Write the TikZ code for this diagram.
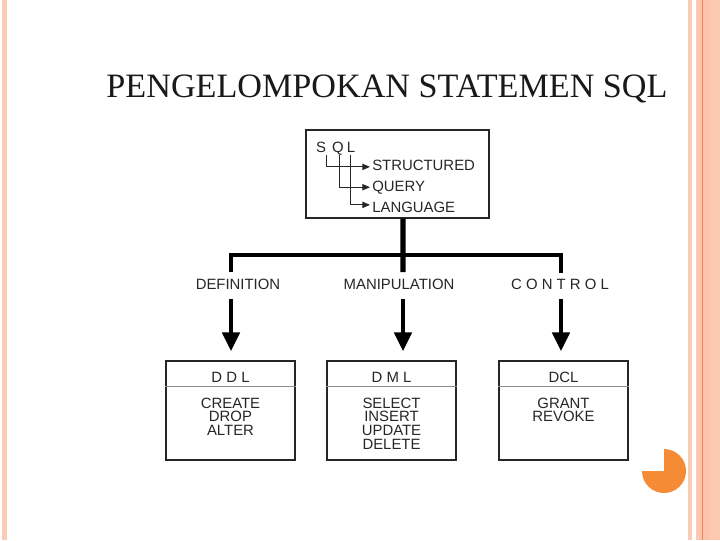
\documentclass[tikz,border=0pt]{standalone}
\usepackage{fontspec}
\setmainfont{Liberation Serif}
\setsansfont{Liberation Sans}
\usetikzlibrary{arrows.meta, positioning, calc}

\definecolor{stripe}{HTML}{F9CCB8}
\definecolor{band}{HTML}{FDC8B2}
\definecolor{bandline}{HTML}{E58A55}
\definecolor{dot}{HTML}{F68B35}

\begin{document}
\begin{tikzpicture}[
    x=0.025cm, y=-0.025cm,
    lbl/.style={
        font=\sffamily\fontsize{10.6}{12}\selectfont,
        text=black!85,
        inner sep=0pt,
        anchor=base
    },
    items/.style={
        font=\sffamily\fontsize{10.6}{9.7}\selectfont,
        text=black!85,
        align=center,
        inner sep=0pt,
        anchor=north
    },
    sqlbox/.style={
        draw=black!85,
        line width=0.8pt,
        minimum width=4.575cm,
        minimum height=2.2cm,
        inner sep=0pt
    },
    catbox/.style={
        draw=black!85,
        line width=0.8pt,
        minimum width=3.225cm,
        minimum height=2.475cm,
        inner sep=0pt
    },
    divider/.style={
        draw=black!45,
        line width=0.8pt
    },
    pointer/.style={
        -{Triangle[length=5.5pt, width=4.5pt]},
        line width=0.7pt,
        draw=black!85
    },
    bus/.style={
        line width=3pt,
        line join=miter,
        draw=black
    },
    bigarrow/.style={
        -{Triangle[length=13.5pt, width=12pt]},
        line width=3.5pt,
        draw=black
    }
]

\useasboundingbox (0,0) rectangle (720,540);
\fill[white] (0,0) rectangle (720,540);

% Slide decoration
\fill[stripe] (2,0) rectangle (7,540);
\fill[stripe] (688,0) rectangle (692,540);
\fill[band] (696,0) rectangle (720,540);
\fill[band!92!bandline] (699,0) rectangle (710,540);
\draw[bandline, line width=0.6pt] (702,0) -- (702,540);
\fill[dot] (664,471) -- ++(0,-22) arc[start angle=270, end angle=540, radius=22] -- cycle;

% Title
\node (title) [font=\rmfamily\fontsize{24.3}{28}\selectfont, text=black!90, inner sep=0pt, anchor=base] at (387,97) {PENGELOMPOKAN STATEMEN SQL};

% SQL box
\node (sql) [sqlbox] at (397.5,174) {};
\node (s) [lbl] at (321,152) {S};
\node (q) [lbl] at (338,152) {Q};
\node (l) [lbl] at (351,152) {L};
\node (structured) [lbl, anchor=base west] at (372,170) {STRUCTURED};
\node (query) [lbl, anchor=base west] at (372,191) {QUERY};
\node (language) [lbl, anchor=base west] at (372,212) {LANGUAGE};

\draw [pointer] ($(s.base)+(5,3)$) |- ($(structured.west)+(-2,2)$);
\draw [pointer] ($(q.base)+(1,3)$) |- ($(query.west)+(-2,0)$);
\draw [pointer] ($(l.base)+(-1,3)$) |- ($(language.west)+(-2,-2)$);

% Groups
\node (def) [lbl] at (238,289) {DEFINITION};
\node (man) [lbl] at (399,289) {MANIPULATION};
\node (con) [lbl] at (560,289) {C O N T R O L};

\coordinate (jl) at (231,255);
\coordinate (jc) at (403,255);
\coordinate (jr) at (561,255);

\draw [bus, line width=3.8pt] ($(sql.south)+(5.5,0)$) -- ($(jc)+(0,17)$);
\draw [bus] ($(jl)+(0,17)$) -- (jl) -- (jr) -- ($(jr)+(0,18)$);

% Statement boxes
\node (ddl) [catbox] at (230.5,410.5) {};
\node (dml) [catbox] at (391.5,410.5) {};
\node (dcl) [catbox] at (563.5,410.5) {};

\node (ddlh) [lbl] at ($(ddl.north)+(0,22)$) {D D L};
\node (dmlh) [lbl] at ($(dml.north)+(0,22)$) {D M L};
\node (dclh) [lbl] at ($(dcl.north)+(0,22)$) {DCL};

\draw [divider] ($(ddl.north west)+(0,26)$) -- ($(ddl.north east)+(0,26)$);
\draw [divider] ($(dml.north west)+(0,26)$) -- ($(dml.north east)+(0,26)$);
\draw [divider] ($(dcl.north west)+(0,26)$) -- ($(dcl.north east)+(0,26)$);

\node (ddlitems) [items] at ($(ddl.north)+(0,37)$) {CREATE\\DROP\\ALTER};
\node (dmlitems) [items] at ($(dml.north)+(0,37)$) {SELECT\\INSERT\\UPDATE\\DELETE};
\node (dclitems) [items] at ($(dcl.north)+(0,37)$) {GRANT\\REVOKE};

% Arrows
\draw [bigarrow] ($(jl |- def.south)+(0,10)$) -- ($(jl |- ddl.north)+(0,-9)$);
\draw [bigarrow] ($(jc |- man.south)+(0,10)$) -- ($(jc |- dml.north)+(0,-9)$);
\draw [bigarrow] ($(jr |- con.south)+(0,10)$) -- ($(jr |- dcl.north)+(0,-9)$);

\end{tikzpicture}
\end{document}
